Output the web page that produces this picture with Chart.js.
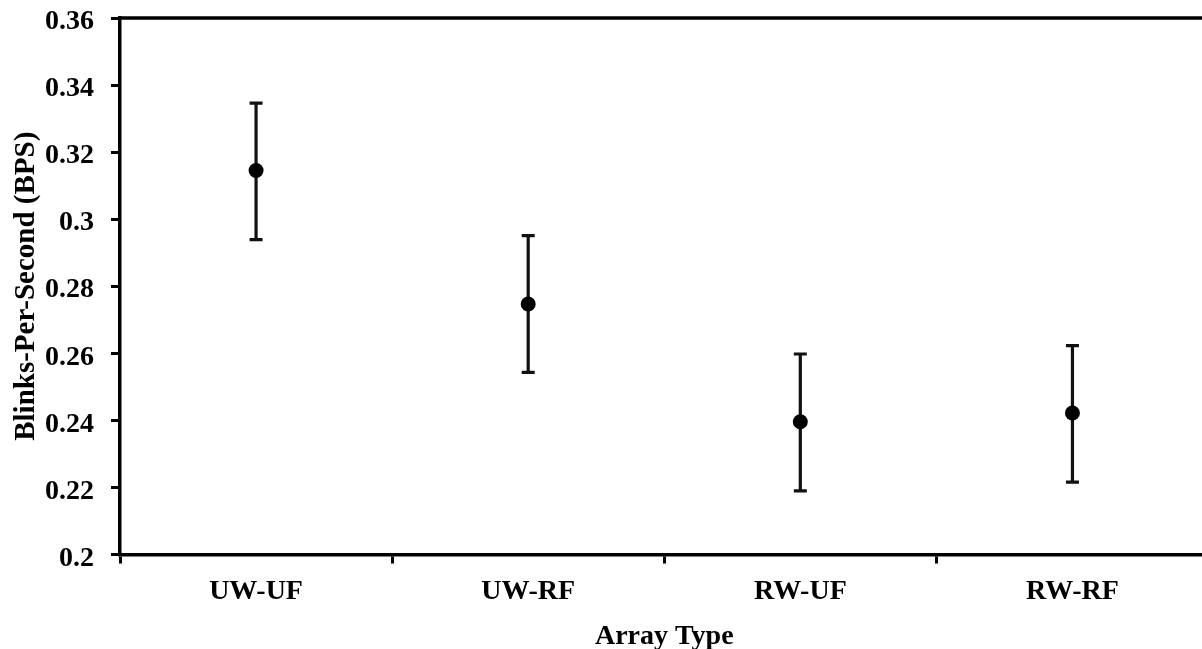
<!DOCTYPE html>
<html>
<head>
<meta charset="utf-8">
<script src="https://cdn.jsdelivr.net/npm/chart.js@4.4.0/dist/chart.umd.min.js"></script>
<style>
  html, body { margin: 0; padding: 0; background: #fff; overflow: hidden; width: 1202px; height: 649px; }
  canvas { display: block; }
</style>
</head>
<body>
<canvas id="c" width="1216" height="649" style="width:1216px;height:649px;"></canvas>
<script>
// ---- data ----
const categories = ['UW-UF', 'UW-RF', 'RW-UF', 'RW-RF'];
const meanBPS    = [0.3145, 0.2747, 0.2396, 0.2422];
const upperBPS   = [0.3346, 0.2951, 0.2598, 0.2623];
const lowerBPS   = [0.2939, 0.2543, 0.2190, 0.2216];
const yTickLabels = ['0.2', '0.22', '0.24', '0.26', '0.28', '0.3', '0.32', '0.34', '0.36'];

const FONT = '"Liberation Serif", "Times New Roman", serif';

const errorBars = {
  id: 'errorBars',
  beforeDatasetsDraw(chart) {
    const ctx = chart.ctx, xs = chart.scales.x, ys = chart.scales.y;
    ctx.save();
    ctx.strokeStyle = '#111';
    ctx.lineWidth = 3.2;
    ctx.lineCap = 'butt';
    for (let i = 0; i < categories.length; i++) {
      const x = xs.getPixelForValue(i);
      const yt = ys.getPixelForValue(upperBPS[i]);
      const yb = ys.getPixelForValue(lowerBPS[i]);
      ctx.beginPath();
      ctx.moveTo(x, yt); ctx.lineTo(x, yb);
      ctx.moveTo(x - 6.5, yt); ctx.lineTo(x + 6.5, yt);
      ctx.moveTo(x - 6.5, yb); ctx.lineTo(x + 6.5, yb);
      ctx.stroke();
    }
    ctx.restore();
  }
};

const topBorder = {
  id: 'topBorder',
  afterDraw(chart) {
    const ctx = chart.ctx, a = chart.chartArea;
    ctx.save();
    ctx.strokeStyle = '#000';
    ctx.lineWidth = 3.5;
    ctx.beginPath();
    ctx.moveTo(a.left - 1.75, a.top);
    ctx.lineTo(chart.width, a.top);
    ctx.stroke();
    ctx.restore();
  }
};

new Chart(document.getElementById('c'), {
  type: 'line',
  data: {
    labels: categories,
    datasets: [{
      data: meanBPS,
      showLine: false,
      pointRadius: 7.5,
      pointHoverRadius: 7.5,
      pointBackgroundColor: '#000',
      pointBorderColor: '#000',
      pointBorderWidth: 0
    }]
  },
  options: {
    responsive: false,
    maintainAspectRatio: false,
    animation: false,
    devicePixelRatio: 1,
    layout: { padding: { top: 18, right: 2, left: 0, bottom: 0 } },
    plugins: { legend: { display: false }, tooltip: { enabled: false } },
    scales: {
      x: {
        type: 'category',
        offset: true,
        grid: { offset: true, drawOnChartArea: false, drawTicks: true, tickLength: 9, tickWidth: 3, tickColor: '#000' },
        border: { display: true, color: '#000', width: 3.5 },
        ticks: { color: '#000', padding: 11, font: { family: FONT, size: 28, weight: 'bold' }, maxRotation: 0 },
        title: { display: true, text: 'Array Type', color: '#000', padding: { top: 0, bottom: 0 }, font: { family: FONT, size: 28, weight: 'bold', lineHeight: 0.9 } },
        afterFit(s) { s.height = 94.5; s.paddingLeft = 0; s.paddingRight = 0; }
      },
      y: {
        min: 0.2, max: 0.36,
        grid: { drawOnChartArea: false, drawTicks: true, tickLength: 9, tickWidth: 3, tickColor: '#000' },
        border: { display: true, color: '#000', width: 3.5 },
        ticks: {
          stepSize: 0.02,
          color: '#000',
          padding: 17,
          labelOffset: 4,
          font: { family: FONT, size: 28, weight: 'bold' },
          callback(v, i) { return yTickLabels[i]; }
        },
        title: { display: true, text: 'Blinks-Per-Second (BPS)', color: '#000', padding: { top: 12, bottom: 0 }, font: { family: FONT, size: 29, weight: 'bold', lineHeight: 1.0 } },
        afterFit(s) { s.width = 120; s.paddingTop = 0; s.paddingBottom = 0; }
      }
    }
  },
  plugins: [errorBars, topBorder]
});
</script>
</body>
</html>
